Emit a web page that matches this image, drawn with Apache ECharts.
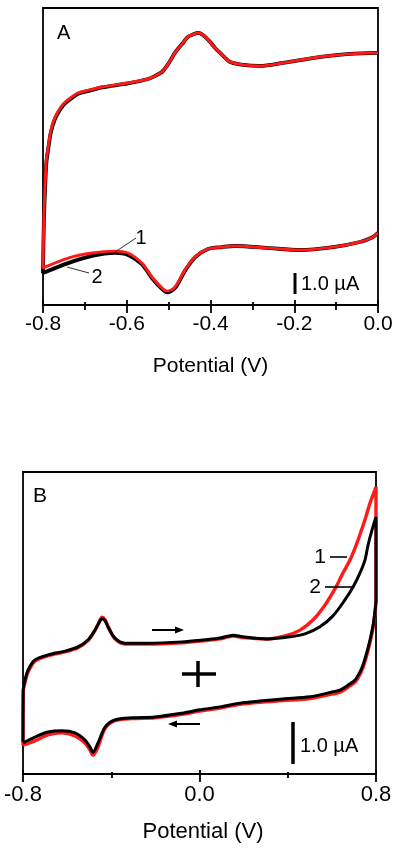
<!DOCTYPE html>
<html><head><meta charset="utf-8">
<script src="https://cdn.jsdelivr.net/npm/echarts@6/dist/echarts.min.js"></script>
<style>html,body{margin:0;padding:0;background:#fff}#c{width:400px;height:850px}</style>
</head><body><div id="c"></div>
<script>
// ---------- Panel A (current, µA; potential, V) ----------
const aFwdV = [-0.800,-0.798,-0.795,-0.792,-0.788,-0.781,-0.771,-0.759,-0.747,-0.731,-0.716,-0.688,-0.659,-0.597,-0.549,-0.533,-0.516,-0.501,-0.485,-0.468,-0.454,-0.442,-0.430,-0.418,-0.401,-0.389,-0.377,-0.365,-0.353,-0.322,-0.282,-0.227,-0.186,-0.122,-0.067,0.000];
const aFwd1 = [1.76,4.04,5.70,6.89,7.45,8.31,8.93,9.35,9.64,9.88,10.07,10.21,10.35,10.54,10.73,10.87,11.06,11.44,11.97,12.39,12.73,12.84,12.92,12.82,12.49,12.20,11.97,11.73,11.54,11.40,11.35,11.49,11.63,11.82,11.92,11.97];
const aFwd2 = [1.52,3.90,5.55,6.75,7.35,8.22,8.85,9.28,9.58,9.83,10.03,10.18,10.33,10.52,10.73,10.87,11.06,11.44,11.97,12.39,12.73,12.84,12.92,12.82,12.49,12.20,11.97,11.73,11.54,11.40,11.35,11.49,11.63,11.82,11.92,11.97];
const aRevV = [0.000,-0.012,-0.043,-0.107,-0.186,-0.265,-0.341,-0.373,-0.406,-0.437,-0.461,-0.485,-0.504,-0.516,-0.540,-0.564,-0.597,-0.628,-0.683,-0.740,-0.800];
const aRev1 = [3.42,3.23,2.99,2.75,2.61,2.71,2.80,2.75,2.66,2.28,1.66,0.85,0.66,0.81,1.33,1.99,2.47,2.56,2.47,2.23,1.76];
const aRev2 = [3.42,3.23,2.99,2.75,2.61,2.71,2.80,2.75,2.66,2.26,1.62,0.80,0.60,0.76,1.28,1.94,2.37,2.47,2.33,1.99,1.52];

// ---------- Panel B ----------
const bFwdV1 = [-0.800,-0.799,-0.791,-0.777,-0.746,-0.687,-0.610,-0.551,-0.505,-0.474,-0.456,-0.442,-0.428,-0.415,-0.383,-0.338,-0.233,-0.079,0.025,0.093,0.152,0.197,0.306,0.388,0.456,0.514,0.569,0.619,0.650,0.682,0.714,0.750,0.773,0.800];
const bFwd1  = [0.69,1.96,2.18,2.43,2.69,2.82,2.91,3.01,3.18,3.42,3.61,3.74,3.68,3.52,3.22,3.10,3.10,3.13,3.18,3.22,3.29,3.25,3.22,3.29,3.43,3.67,4.03,4.46,4.79,5.10,5.51,6.06,6.46,6.84];
const bFwdV2 = [-0.800,-0.799,-0.791,-0.777,-0.746,-0.687,-0.610,-0.551,-0.505,-0.474,-0.456,-0.442,-0.428,-0.415,-0.383,-0.338,-0.233,-0.079,0.025,0.093,0.152,0.197,0.306,0.410,0.478,0.546,0.605,0.659,0.696,0.723,0.750,0.764,0.782,0.800];
const bFwd2  = [0.76,2.00,2.24,2.48,2.72,2.84,2.93,3.03,3.20,3.43,3.60,3.70,3.65,3.51,3.24,3.12,3.12,3.15,3.20,3.24,3.31,3.27,3.22,3.27,3.34,3.51,3.77,4.15,4.46,4.74,5.10,5.46,5.82,6.13];
const bRevV  = [0.800,0.796,0.787,0.773,0.759,0.741,0.727,0.705,0.682,0.637,0.605,0.501,0.378,0.274,0.184,0.093,0.002,-0.079,-0.202,-0.306,-0.383,-0.428,-0.460,-0.483,-0.496,-0.519,-0.564,-0.623,-0.687,-0.746,-0.800];
const bRev1  = [4.15,3.88,3.50,3.14,2.85,2.54,2.37,2.19,2.10,1.95,1.91,1.80,1.75,1.71,1.66,1.57,1.50,1.42,1.34,1.32,1.27,1.09,0.64,0.45,0.57,0.74,0.91,0.98,0.93,0.79,0.69];
const bRev2  = [4.15,3.91,3.55,3.20,2.91,2.60,2.43,2.24,2.15,2.00,1.96,1.84,1.79,1.74,1.69,1.60,1.53,1.45,1.36,1.34,1.29,1.12,0.74,0.52,0.64,0.81,0.98,1.03,1.00,0.88,0.74];

const aTickLabels = ['-0.8','-0.6','-0.4','-0.2','0.0'];
const bTickLabels = ['-0.8','0.0','0.8'];
const xName = 'Potential (V)';

const zip = (xs, ys) => xs.map((x, i) => [x, ys[i]]);
const RED = '#ff1a1a', BLK = '#000';
const FONT = '"Liberation Sans", Arial, sans-serif';

function xAxes(grid, min, max, interval, labels, fs, margin, tin, tout, min_in, min_out) {
  return [
    { gridIndex: grid, type: 'value', position: 'bottom', min: min, max: max, interval: interval,
      axisLine: { show: true, lineStyle: { color: '#000', width: 1.8 } },
      axisTick: { show: true, inside: true, length: tin, lineStyle: { color: '#000', width: 1.8 } },
      minorTick: { show: true, splitNumber: 2, length: min_in, lineStyle: { color: '#000', width: 1.8 } },
      splitLine: { show: false },
      axisLabel: { show: true, margin: margin, color: '#000', fontSize: fs, fontFamily: FONT,
        showMinLabel: true, showMaxLabel: true,
        formatter: v => { const s = (Math.abs(v) < 1e-9 ? 0 : v).toFixed(1); return labels.indexOf(s) >= 0 ? s : ''; } } },
    { gridIndex: grid, type: 'value', position: 'bottom', min: min, max: max, interval: interval,
      axisLine: { show: false },
      axisTick: { show: true, inside: false, length: tout, lineStyle: { color: '#000', width: 1.8 } },
      minorTick: { show: true, splitNumber: 2, length: min_out, lineStyle: { color: '#000', width: 1.8 } },
      splitLine: { show: false }, axisLabel: { show: false } }
  ];
}

function line(name, xi, yi, data, color, w, z) {
  return { name: name, type: 'line', xAxisIndex: xi, yAxisIndex: yi, data: data, showSymbol: false,
    smooth: 0.3, lineStyle: { color: color, width: w }, z: z, silent: true };
}

const chart = echarts.init(document.getElementById('c'), null, { renderer: 'canvas' });
chart.setOption({
  animation: false,
  backgroundColor: '#fff',
  grid: [
    { left: 43, top: 8, width: 335, height: 297, show: true, borderColor: '#000', borderWidth: 1.8, backgroundColor: 'transparent' },
    { left: 23, top: 472, width: 353, height: 302, show: true, borderColor: '#000', borderWidth: 1.8, backgroundColor: 'transparent' }
  ],
  xAxis: [].concat(
    xAxes(0, -0.8, 0.0, 0.2, aTickLabels, 21, 9, 5, 8, 3, 5),
    xAxes(1, -0.8, 0.8, 0.8, bTickLabels, 22, 10, 4, 8, 2, 4)
  ),
  yAxis: [
    { gridIndex: 0, type: 'value', min: 0, max: 14.1, show: false },
    { gridIndex: 1, type: 'value', min: 0, max: 7.2, show: false }
  ],
  series: [
    line('A-2', 0, 0, zip(aRevV, aRev2).concat(zip(aFwdV, aFwd2)), BLK, 3.8, 2),
    line('A-1', 0, 0, zip(aRevV, aRev1).concat(zip(aFwdV, aFwd1)), RED, 2.9, 3),
    line('B-1', 2, 1, zip(bFwdV1, bFwd1).concat(zip(bRevV, bRev1)), RED, 3.4, 2),
    line('B-2', 2, 1, zip(bFwdV2, bFwd2).concat(zip(bRevV, bRev2)), BLK, 3.0, 3)
  ],
  graphic: [
    // panel A annotations
    { type: 'text', left: 57, top: 23, style: { text: 'A', fontSize: 20, fontFamily: FONT, fill: '#000' } },
    { type: 'text', x: 141, y: 238, style: { text: '1', fontSize: 20, fontFamily: FONT, fill: '#000', align: 'center', verticalAlign: 'middle' } },
    { type: 'text', x: 97, y: 277, style: { text: '2', fontSize: 20, fontFamily: FONT, fill: '#000', align: 'center', verticalAlign: 'middle' } },
    { type: 'line', shape: { x1: 115, y1: 252, x2: 136, y2: 238 }, style: { stroke: '#333', lineWidth: 1 }, z: 10 },
    { type: 'line', shape: { x1: 67, y1: 267, x2: 89, y2: 273 }, style: { stroke: '#333', lineWidth: 1 }, z: 10 },
    { type: 'line', shape: { x1: 295, y1: 273, x2: 295, y2: 294 }, style: { stroke: '#000', lineWidth: 3 } },
    { type: 'text', x: 301, y: 284, style: { text: '1.0 µA', fontSize: 20, fontFamily: FONT, fill: '#000', verticalAlign: 'middle' } },
    { type: 'text', x: 210.5, y: 366, style: { text: xName, fontSize: 21, fontFamily: FONT, fill: '#000', align: 'center', verticalAlign: 'middle' } },
    // panel B annotations
    { type: 'text', left: 33, top: 486, style: { text: 'B', fontSize: 21, fontFamily: FONT, fill: '#000' } },
    { type: 'text', x: 320, y: 557, style: { text: '1', fontSize: 21, fontFamily: FONT, fill: '#000', align: 'center', verticalAlign: 'middle' } },
    { type: 'text', x: 315, y: 587, style: { text: '2', fontSize: 21, fontFamily: FONT, fill: '#000', align: 'center', verticalAlign: 'middle' } },
    { type: 'line', shape: { x1: 330, y1: 557, x2: 347, y2: 557 }, style: { stroke: '#000', lineWidth: 1.6 }, z: 10 },
    { type: 'line', shape: { x1: 325, y1: 587, x2: 353, y2: 587 }, style: { stroke: '#000', lineWidth: 1.6 }, z: 10 },
    { type: 'line', shape: { x1: 152, y1: 630, x2: 178, y2: 630 }, style: { stroke: '#000', lineWidth: 2 } },
    { type: 'polygon', shape: { points: [[184, 630], [175, 626.5], [175, 633.5]] }, style: { fill: '#000' } },
    { type: 'line', shape: { x1: 174, y1: 724, x2: 200, y2: 724 }, style: { stroke: '#000', lineWidth: 2 } },
    { type: 'polygon', shape: { points: [[168, 724], [177, 720.5], [177, 727.5]] }, style: { fill: '#000' } },
    { type: 'line', shape: { x1: 182, y1: 674, x2: 216, y2: 674 }, style: { stroke: '#000', lineWidth: 3.5 } },
    { type: 'line', shape: { x1: 198, y1: 661, x2: 198, y2: 687 }, style: { stroke: '#000', lineWidth: 3.5 } },
    { type: 'line', shape: { x1: 293, y1: 722, x2: 293, y2: 764 }, style: { stroke: '#000', lineWidth: 3.5 } },
    { type: 'text', x: 300, y: 746, style: { text: '1.0 µA', fontSize: 20, fontFamily: FONT, fill: '#000', verticalAlign: 'middle' } },
    { type: 'text', x: 203, y: 832, style: { text: xName, fontSize: 22, fontFamily: FONT, fill: '#000', align: 'center', verticalAlign: 'middle' } }
  ]
});
</script></body></html>
